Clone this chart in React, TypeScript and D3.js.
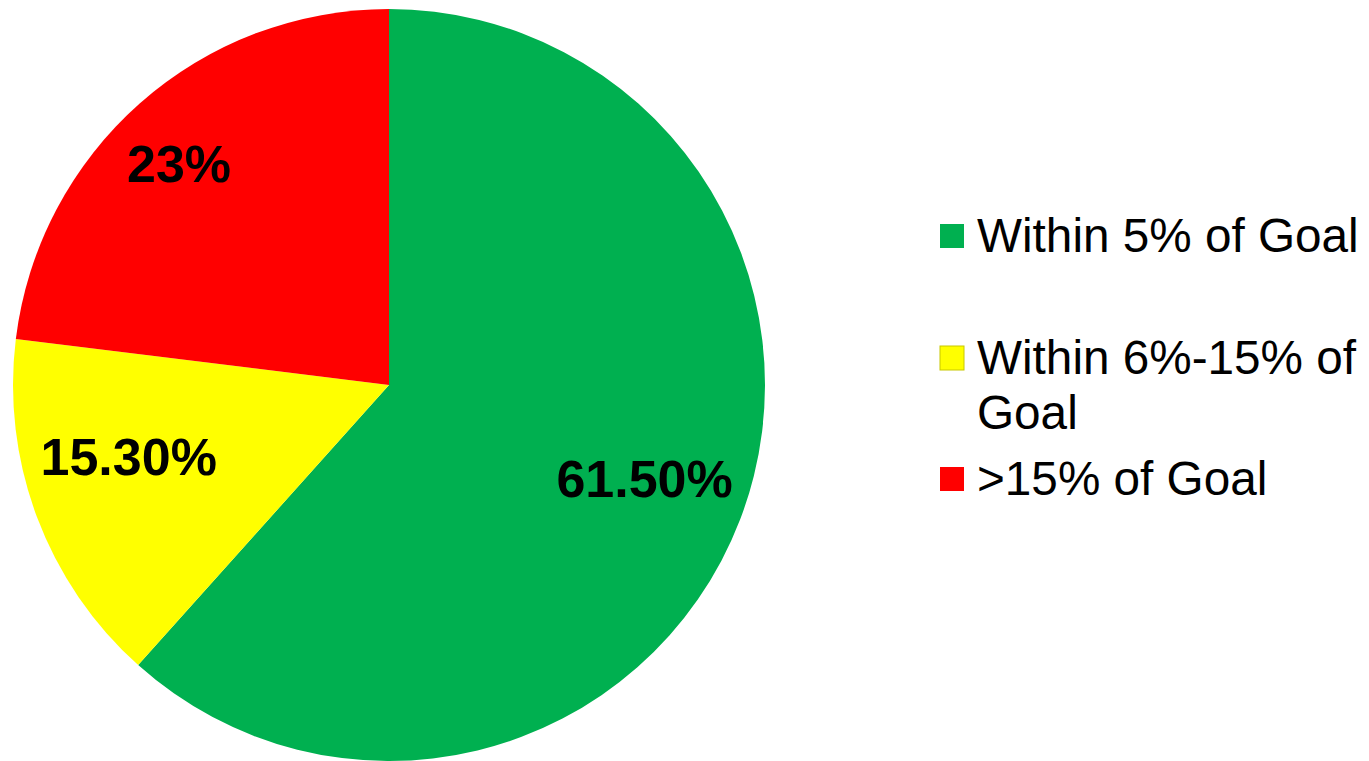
import React from "react";
import * as d3 from "d3";

const categories = ["Within 5% of Goal", "Within 6%-15% of Goal", ">15% of Goal"];
const values = [61.5, 15.3, 23];
const labels = ["61.50%", "15.30%", "23%"];
const legendLines = [["Within 5% of Goal"], ["Within 6%-15% of", "Goal"], [">15% of Goal"]];
const colors = ["#00B050", "#FFFF00", "#FF0000"];

// label placement (polar, in px and degrees from top, clockwise)
const labelPolar = [
  { r: 272, a: 110 },
  { r: 270, a: 254.6 },
  { r: 305, a: 316.5 },
];

export default function App() {
  const W = 1369, H = 761;
  const cx = 389, cy = 385, R = 376;
  const pie = d3.pie<number>().sort(null).value((d) => d)(values);
  const arc = d3.arc<d3.PieArcDatum<number>>().innerRadius(0).outerRadius(R);
  const fontFamily = "'Liberation Sans', Arial, sans-serif";

  const legendY = [252, 374, 495];
  const lineH = 55;

  return (
    <svg
      width={W}
      height={H}
      style={{ position: "absolute", left: 0, top: 0, display: "block", background: "#fff" }}
    >
      <g transform={`translate(${cx},${cy})`}>
        {pie.map((p, i) => (
          <path key={i} d={arc(p) || ""} fill={colors[i]} />
        ))}
        {pie.map((p, i) => {
          const lp = labelPolar[i];
          const rad = (lp.a * Math.PI) / 180;
          const x = lp.r * Math.sin(rad);
          const y = -lp.r * Math.cos(rad);
          return (
            <text
              key={i}
              x={x}
              y={y + 18.5}
              textAnchor="middle"
              fontFamily={fontFamily}
              fontWeight="bold"
              fontSize={52}
              fill="#000"
            >
              {labels[i]}
            </text>
          );
        })}
      </g>
      <g>
        {categories.map((c, i) => (
          <g key={c}>
            <rect
              x={940}
              y={legendY[i] - 28}
              width={24}
              height={24}
              fill={colors[i]}
              stroke={i === 1 ? "#c8c800" : "none"}
              strokeWidth={1}
            />
            {legendLines[i].map((ln, j) => (
              <text
                key={j}
                x={977}
                y={legendY[i] + j * lineH}
                fontFamily={fontFamily}
                fontSize={47.7}
                fill="#000"
              >
                {ln}
              </text>
            ))}
          </g>
        ))}
      </g>
    </svg>
  );
}
